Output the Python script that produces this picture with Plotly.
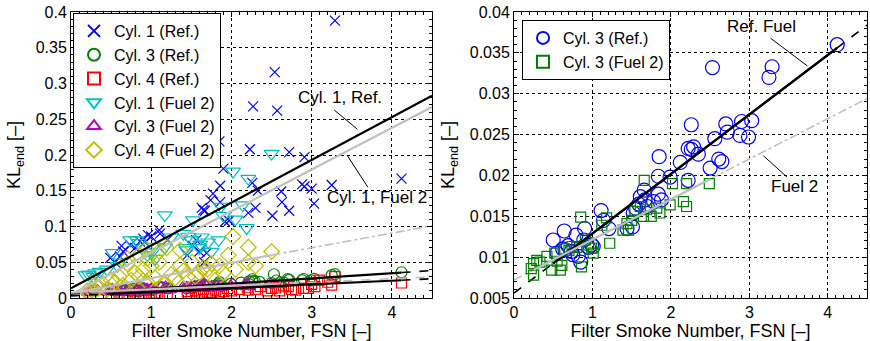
import plotly.graph_objects as go

# ---------------- data ----------------
cyl1_ref_fsn = [3.29,2.54,2.27,2.57,1.85,2.23,2.72,2.91,1.90,4.12,3.25,2.88,2.91,3.00,3.03,2.63,2.72,2.62,2.51,2.26,
                2.33,2.30,2.21,1.86,1.86,1.74,1.63,1.67,1.97,1.10,1.00,0.96,0.90,0.86,0.74,0.65,0.61,0.63,0.49,1.52,
                1.60,1.69,1.56,1.77,1.65,1.20,0.80,0.55,1.66,1.45,1.92,1.11,0.92]
cyl1_ref_kl = [0.388,0.316,0.268,0.262,0.219,0.208,0.204,0.197,0.181,0.167,0.158,0.159,0.156,0.153,0.132,0.134,0.122,0.149,0.115,0.161,
               0.150,0.126,0.119,0.157,0.134,0.137,0.126,0.122,0.108,0.095,0.086,0.088,0.083,0.079,0.074,0.065,0.058,0.073,0.056,0.073,
               0.065,0.063,0.081,0.146,0.123,0.081,0.070,0.050,0.050,0.060,0.107,0.090,0.078]

cyl1_f2_fsn = [2.50,2.02,2.21,1.17,1.52,2.19,1.84,1.50,0.74,0.84,1.17,1.01,0.52,0.36,0.22,0.18,1.43,1.61,1.71,2.14,
               1.87,1.60,0.45,0.30,0.62,0.95,1.25,1.40,1.75,1.90,0.28,0.58,1.05,1.63,2.05,1.46,1.44,0.82,1.03]
cyl1_f2_kl = [0.202,0.177,0.167,0.116,0.109,0.098,0.081,0.081,0.081,0.077,0.071,0.064,0.063,0.037,0.033,0.032,0.070,0.075,0.078,0.130,
              0.128,0.070,0.040,0.035,0.050,0.060,0.085,0.090,0.065,0.115,0.030,0.045,0.055,0.085,0.110,0.086,0.067,0.081,0.072]

cyl4_f2_fsn = [2.02,2.21,2.50,1.96,2.21,1.51,1.36,0.94,1.19,1.85,1.70,1.60,1.45,1.30,1.10,1.00,0.90,0.80,0.70,0.60,
               0.50,0.40,0.30,0.25,0.20,0.35,0.55,0.75,0.85,1.05,1.25,1.40,1.65,1.75,1.90,2.05,0.45,0.65,0.95,1.15,
               1.55,0.28,0.22,2.30,1.80,0.85,0.95,1.10,0.70,1.36]
cyl4_f2_kl = [0.086,0.071,0.065,0.060,0.050,0.050,0.046,0.068,0.070,0.045,0.040,0.035,0.030,0.028,0.050,0.045,0.040,0.035,0.055,0.030,
              0.025,0.020,0.018,0.012,0.010,0.015,0.022,0.025,0.030,0.028,0.033,0.038,0.042,0.048,0.035,0.040,0.012,0.018,0.022,0.020,
              0.030,0.008,0.006,0.045,0.025,0.060,0.055,0.065,0.048,0.067]

cyl3_ref_fsn = [4.12,2.53,3.29,3.25,2.26,2.70,2.90,3.03,2.72,2.88,2.99,2.56,2.22,2.29,2.35,1.85,2.12,2.61,2.65,2.50,
                1.84,1.99,2.22,1.66,1.61,1.67,1.84,1.88,1.78,1.59,1.52,1.51,1.44,1.11,1.14,1.21,0.90,0.64,0.79,0.50,
                0.89,0.99,0.65,0.73,0.82,1.01,0.69,0.55,0.62,0.85,1.55,1.70,2.26,0.95,0.75]
cyl3_ref_kl = [0.0360,0.0332,0.0333,0.0320,0.0262,0.0263,0.0266,0.0267,0.0253,0.0249,0.0247,0.0245,0.0233,0.0235,0.0226,0.0223,0.0216,0.0220,0.0217,0.0209,
               0.0199,0.0198,0.0194,0.0182,0.0174,0.0170,0.0177,0.0170,0.0168,0.0165,0.0154,0.0137,0.0135,0.0157,0.0145,0.0135,0.0135,0.0132,0.0127,0.0121,
               0.0121,0.0115,0.0109,0.0107,0.0101,0.0113,0.0114,0.0105,0.0110,0.0094,0.0160,0.0162,0.0232,0.0112,0.0103]

cyl3_f2_fsn = [1.66,2.02,2.20,2.49,2.16,2.20,1.99,1.86,1.82,1.69,1.61,1.54,1.44,1.46,1.39,0.85,1.12,1.18,1.22,0.99,
               1.01,0.91,0.86,0.74,0.64,0.52,0.42,0.33,0.29,0.25,0.22,0.25,0.48,0.59,0.61,0.55,0.70,0.80,0.95,1.75,
               1.65,1.50]
cyl3_f2_kl = [0.0194,0.0190,0.0190,0.0190,0.0168,0.0162,0.0164,0.0154,0.0160,0.0158,0.0162,0.0156,0.0141,0.0133,0.0133,0.0149,0.0139,0.0148,0.0117,0.0111,
              0.0105,0.0121,0.0088,0.0113,0.0110,0.0105,0.0101,0.0094,0.0096,0.0092,0.0086,0.0078,0.0084,0.0084,0.0090,0.0095,0.0108,0.0112,0.0115,0.0150,
              0.0150,0.0145]

cyl4_ref_fsn = [4.12,3.29,3.25,3.10,3.04,2.96,2.90,2.71,2.65,2.50,2.36,2.21,2.10,2.00,1.90,1.80,1.70,1.60,1.50,1.45,
                1.55,1.65,1.75,1.85,1.95,2.30,2.45,2.55,2.80,3.00,1.20,1.10,1.00,0.90,0.80,0.70,0.60,0.50,0.65,0.85,
                1.05,2.20,2.60,2.75,3.20]
cyl4_ref_kl = [0.021,0.030,0.018,0.025,0.016,0.0135,0.0135,0.016,0.017,0.0135,0.016,0.011,0.012,0.010,0.009,0.011,0.008,0.007,0.006,0.009,
               0.010,0.012,0.008,0.007,0.013,0.012,0.010,0.014,0.011,0.019,0.006,0.004,0.005,0.003,0.004,0.003,0.002,0.002,0.005,0.006,
               0.007,0.015,0.010,0.012,0.022]

# fit lines: segment end points (x, y)
fit_c1ref_x = [0, 4.5];        fit_c1ref_y = [0.0135, 0.283]
fit_c1f2_x = [0, 4.5];         fit_c1f2_y = [0.005, 0.267]
fit_c4f2_solid_x = [0, 2.5];   fit_c4f2_solid_y = [0.006, 0.060]
fit_c4f2_ext_x = [2.5, 4.5];   fit_c4f2_ext_y = [0.060, 0.101]
fit_c3ref_x = [0, 0.5, 4.12, 4.5];      fit_c3ref_y = [0.0056, 0.00925, 0.0356, 0.0384]
fit_c4ref_x = [0, 0.5, 4.12, 4.5];      fit_c4ref_y = [0.003, 0.0057, 0.0248, 0.027]
fit_c3f2_x = [0, 0.25, 2.5, 4.5];       fit_c3f2_y = [0.0072, 0.00844, 0.01955, 0.0294]

x_ticks = [0, 1, 2, 3, 4]
y_ticks_left = [0, 0.05, 0.1, 0.15, 0.2, 0.25, 0.3, 0.35, 0.4]
y_labels_left = ["0", "0.05", "0.1", "0.15", "0.2", "0.25", "0.3", "0.35", "0.4"]
y_ticks_right = [0.005, 0.01, 0.015, 0.02, 0.025, 0.03, 0.035, 0.04]
y_labels_right = ["0.005", "0.01", "0.015", "0.02", "0.025", "0.03", "0.035", "0.04"]

# ---------------- figure ----------------
FONT = "Liberation Sans, Arial, Helvetica, sans-serif"
BLUE, GREEN, RED, CYAN, MAG, YEL = "#0000ff", "#008000", "#ff0000", "#00bfbf", "#bf00bf", "#bfbf00"
GRAY = "#c0c0c0"

fig = go.Figure()

def pts(x, y, name, sym, color, size, xa, ya, legend, show=True):
    fig.add_trace(go.Scatter(x=x, y=y, mode="markers", name=name, xaxis=xa, yaxis=ya,
                             legend=legend, showlegend=show,
                             marker=dict(symbol=sym, size=size, color=color,
                                         line=dict(color=color, width=1.2))))

def line(x, y, color, width, dash, xa, ya):
    fig.add_trace(go.Scatter(x=x, y=y, mode="lines", xaxis=xa, yaxis=ya, showlegend=False,
                             hoverinfo="skip", line=dict(color=color, width=width, dash=dash)))

# left panel
pts(cyl1_ref_fsn, cyl1_ref_kl, "Cyl. 1 (Ref.)", "x-thin-open", BLUE, 10, "x", "y", "legend")
pts(cyl3_ref_fsn, cyl3_ref_kl, "Cyl. 3 (Ref.)", "circle-open", GREEN, 11, "x", "y", "legend")
pts(cyl4_ref_fsn, cyl4_ref_kl, "Cyl. 4 (Ref.)", "square-open", RED, 10, "x", "y", "legend")
pts(cyl1_f2_fsn, cyl1_f2_kl, "Cyl. 1 (Fuel 2)", "triangle-down-open", CYAN, 13, "x", "y", "legend")
pts(cyl3_f2_fsn, cyl3_f2_kl, "Cyl. 3 (Fuel 2)", "triangle-up-open", MAG, 13, "x", "y", "legend")
pts(cyl4_f2_fsn, cyl4_f2_kl, "Cyl. 4 (Fuel 2)", "diamond-open", YEL, 12, "x", "y", "legend")

line(fit_c1ref_x, fit_c1ref_y, "black", 2.2, "solid", "x", "y")
line(fit_c1f2_x, fit_c1f2_y, GRAY, 2.2, "solid", "x", "y")
line(fit_c4f2_solid_x, fit_c4f2_solid_y, GRAY, 2.2, "solid", "x", "y")
line(fit_c4f2_ext_x, fit_c4f2_ext_y, GRAY, 1.6, "dashdot", "x", "y")
for xa, ya in (("x", "y"), ("x2", "y2")):
    line(fit_c3ref_x[0:2], fit_c3ref_y[0:2], "black", 1.6, "dash", xa, ya)
    line(fit_c3ref_x[1:3], fit_c3ref_y[1:3], "black", 2.2, "solid", xa, ya)
    line(fit_c3ref_x[2:4], fit_c3ref_y[2:4], "black", 1.6, "dash", xa, ya)
    gdash = "dash" if xa == "x" else "dashdot"
    line(fit_c3f2_x[0:2], fit_c3f2_y[0:2], GRAY, 1.6, gdash, xa, ya)
    line(fit_c3f2_x[1:3], fit_c3f2_y[1:3], GRAY, 2.2, "solid", xa, ya)
    line(fit_c3f2_x[2:4], fit_c3f2_y[2:4], GRAY, 1.6, gdash, xa, ya)
line(fit_c4ref_x[0:2], fit_c4ref_y[0:2], "black", 1.6, "dash", "x", "y")
line(fit_c4ref_x[1:3], fit_c4ref_y[1:3], "black", 2.2, "solid", "x", "y")
line(fit_c4ref_x[2:4], fit_c4ref_y[2:4], "black", 1.6, "dash", "x", "y")

# right panel
pts(cyl3_ref_fsn, cyl3_ref_kl, "Cyl. 3 (Ref.)", "circle-open", BLUE, 14, "x2", "y2", "legend2")
pts(cyl3_f2_fsn, cyl3_f2_kl, "Cyl. 3 (Fuel 2)", "square-open", GREEN, 10, "x2", "y2", "legend2")

line(fit_c3ref_x[1:3], fit_c3ref_y[1:3], "black", 2.2, "solid", "x2", "y2")
line(fit_c3f2_x[1:3], fit_c3f2_y[1:3], GRAY, 2.2, "solid", "x2", "y2")

axis_common = dict(showline=True, linecolor="black", linewidth=1, mirror="ticks",
                   ticks="inside", ticklen=5, tickcolor="black", automargin=False,
                   ticklabeloverflow="allow",
                   showgrid=True, gridcolor="black", griddash="dot", gridwidth=1,
                   zeroline=False, tickfont=dict(size=16, color="black", family=FONT),
                   title_font=dict(size=18, color="black", family=FONT))

xt = dict(axis_common, range=[0, 4.5], tickvals=x_ticks,
          minor=dict(ticks="inside", ticklen=3, dtick=0.1, tickcolor="black", showgrid=False),
          title=dict(text="Filter Smoke Number, FSN [\u2013]", standoff=3))

W, H = 870, 341
def dx(p):  # window px -> paper fraction
    return p / W
def dy(p):
    return 1 - p / H

fig.update_layout(
    width=W, height=H, margin=dict(l=0, r=0, t=0, b=0, autoexpand=False),
    paper_bgcolor="white", plot_bgcolor="white",
    font=dict(family=FONT, color="black", size=16),
    xaxis=dict(xt, domain=[dx(71), dx(432)], anchor="y"),
    yaxis=dict(axis_common, domain=[dy(298), dy(12)], anchor="x", range=[0, 0.4],
               tickvals=y_ticks_left, ticktext=y_labels_left,
               minor=dict(ticks="inside", ticklen=3, dtick=0.01, tickcolor="black", showgrid=False),
               title=dict(text="KL<sub>end</sub> [\u2013]", standoff=10)),
    xaxis2=dict(xt, domain=[dx(514), dx(867)], anchor="y2"),
    yaxis2=dict(axis_common, domain=[dy(298), dy(12)], anchor="x2", range=[0.005, 0.04],
                tickvals=y_ticks_right, ticktext=y_labels_right,
                minor=dict(ticks="inside", ticklen=3, dtick=0.001, tickcolor="black", showgrid=False),
                title=dict(text="KL<sub>end</sub> [\u2013]", standoff=10)),
    legend=dict(x=dx(73), y=dy(13), xanchor="left", yanchor="top", bgcolor="white",
                bordercolor="black", borderwidth=1, font=dict(size=16, family=FONT),
                tracegroupgap=0, itemsizing="constant"),
    legend2=dict(x=dx(522), y=dy(20), xanchor="left", yanchor="top", bgcolor="white",
                 bordercolor="black", borderwidth=1, font=dict(size=16, family=FONT),
                 tracegroupgap=0, itemsizing="constant"),
)

# labels with leader lines
labels = [
    ("x", "y", "Cyl. 1, Ref.", 3.35, 0.280, [3.28, 3.57], [0.263, 0.236]),
    ("x", "y", "Cyl. 1, Fuel 2", 3.82, 0.140, [3.44, 3.70], [0.200, 0.155]),
    ("x2", "y2", "Ref. Fuel", 3.15, 0.0382, [3.27, 3.74], [0.0368, 0.0334]),
    ("x2", "y2", "Fuel 2", 3.58, 0.0186, [3.18, 3.48], [0.0224, 0.0198]),
]
for xa, ya, txt, tx, ty, lx, ly in labels:
    fig.add_annotation(x=tx, y=ty, xref=xa, yref=ya, text=txt, showarrow=False,
                       font=dict(size=17, family=FONT, color="black"))
    fig.add_shape(type="line", xref=xa, yref=ya, x0=lx[0], y0=ly[0], x1=lx[1], y1=ly[1],
                  line=dict(color="black", width=1))

# remove the browser's default body margin so the figure fills the window exactly
fig.write_html("out.html", config={"displayModeBar": False},
               post_script="document.body.style.margin='0px';document.body.style.overflow='hidden';")
